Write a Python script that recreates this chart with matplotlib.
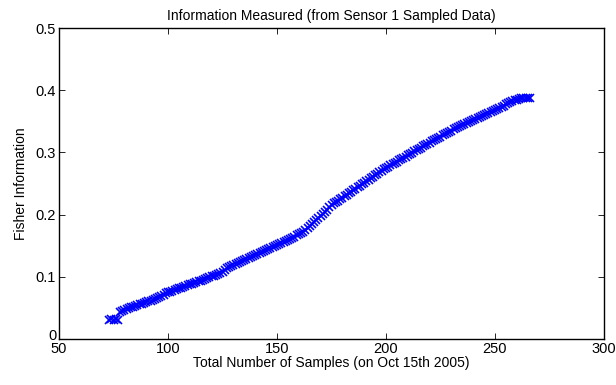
import matplotlib
matplotlib.use("Agg")
import matplotlib.pyplot as plt
import matplotlib.transforms as mtransforms
import numpy as np

plt.rcParams['font.family'] = ['Liberation Sans', 'DejaVu Sans']

# Sample counts (one measurement per sample)
samples = list(range(73, 267))

# Fisher information measured at each sample count
fisher_info = [
    0.031, 0.032, 0.031, 0.032, 0.031,                                   # 73-77
    0.044, 0.0455, 0.0467, 0.048, 0.0493, 0.0507, 0.052,                 # 78-84
    0.0532, 0.0544, 0.0555, 0.0567, 0.0579, 0.0591, 0.0603, 0.0615,      # 85-92
    0.063, 0.0645, 0.066,                                                # 93-95
    0.0678, 0.0696, 0.0714, 0.0732, 0.075,                               # 96-100
    0.0763, 0.0775, 0.0788, 0.0801, 0.0813, 0.0826, 0.0839, 0.0851,      # 101-108
    0.0864, 0.0877, 0.0889, 0.0902, 0.0915, 0.0927, 0.094,               # 109-115
    0.0953, 0.0967, 0.098, 0.0993, 0.1007, 0.102, 0.1033, 0.1047, 0.106, # 116-124
    0.1085, 0.111, 0.1135, 0.116,                                        # 125-128
    0.1176, 0.1192, 0.1208, 0.1224, 0.124, 0.1256, 0.1272, 0.1288,       # 129-136
    0.1304, 0.132,                                                       # 137-138
    0.1336, 0.1352, 0.1367, 0.1383, 0.1399, 0.1415, 0.1431, 0.1446,      # 139-146
    0.1462, 0.1478, 0.1494, 0.151,                                       # 147-150
    0.1527, 0.1545, 0.1562, 0.1579, 0.1596, 0.1614, 0.1631, 0.1648,      # 151-158
    0.1665, 0.1683, 0.170,                                               # 159-161
    0.1725, 0.1752, 0.178, 0.181, 0.1842, 0.1875, 0.191, 0.1945,         # 162-169
    0.198, 0.2015, 0.2048, 0.208, 0.2115, 0.2148, 0.218,                 # 170-176
    0.2204, 0.2227, 0.2251, 0.2275, 0.2298, 0.2322, 0.2345, 0.2369,      # 177-184
    0.2393, 0.2416, 0.244,                                               # 185-187
    0.2464, 0.2488, 0.2512, 0.2535, 0.2559, 0.2583, 0.2607, 0.2631,      # 188-195
    0.2655, 0.2679, 0.2702, 0.2726, 0.275,                               # 196-200
    0.2771, 0.2791, 0.2812, 0.2832, 0.2853, 0.2874, 0.2894, 0.2915,      # 201-208
    0.2935, 0.2956, 0.2976, 0.2997, 0.3018, 0.3038, 0.3059, 0.3079,      # 209-216
    0.310,                                                               # 217
    0.3119, 0.3139, 0.3158, 0.3177, 0.3197, 0.3216, 0.3235, 0.3255,      # 218-225
    0.3274, 0.3293, 0.3313, 0.3332, 0.3351, 0.3371, 0.339,               # 226-232
    0.3406, 0.3422, 0.3438, 0.3454, 0.347, 0.3487, 0.3503, 0.3519,       # 233-240
    0.3535, 0.3551, 0.3567, 0.3583, 0.3599, 0.3616, 0.3632, 0.3648,      # 241-248
    0.3664, 0.368,                                                       # 249-250
    0.3699, 0.3718, 0.3736, 0.3754, 0.3772, 0.3789, 0.3806, 0.3822,      # 251-258
    0.3838, 0.385,                                                       # 259-260
    0.386, 0.3868, 0.3872, 0.3874, 0.3873, 0.3868,                       # 261-266
]

x_ticks = [50, 100, 150, 200, 250, 300]
y_ticks = [0, 0.1, 0.2, 0.3, 0.4, 0.5]
y_tick_labels = ['0', '0.1', '0.2', '0.3', '0.4', '0.5']

fig = plt.figure(figsize=(6.16, 3.85), dpi=100)
ax = fig.add_axes([0.0958, 0.1195, 0.8847, 0.8075])

ax.plot(samples, fisher_info, linestyle='none', marker='x',
        color=(0, 0, 1), markersize=6, markeredgewidth=1.2)

ax.set_xlim(50, 300)
ax.set_ylim(0, 0.5)
ax.set_xticks(x_ticks)
ax.set_xticklabels([str(t) for t in x_ticks])
ax.set_yticks(y_ticks)
ax.set_yticklabels(y_tick_labels)

ax.tick_params(direction='in', length=4, width=0.6, labelsize=10.5,
               top=True, right=True, pad=2, colors='black')
for spine in ax.spines.values():
    spine.set_linewidth(1.0)

# lift the "0" label a little so it sits above the first x tick label
zero_label = ax.get_yticklabels()[0]
zero_label.set_transform(zero_label.get_transform() +
                         mtransforms.ScaledTranslation(0, 3 / 72, fig.dpi_scale_trans))

ax.set_title('Information Measured (from Sensor 1 Sampled Data)', fontsize=10, pad=6)
ax.set_xlabel('Total Number of Samples (on Oct 15th 2005)', fontsize=10, labelpad=0)
ax.set_ylabel('Fisher Information', fontsize=10, labelpad=6)

fig.savefig('out.png', dpi=100)
